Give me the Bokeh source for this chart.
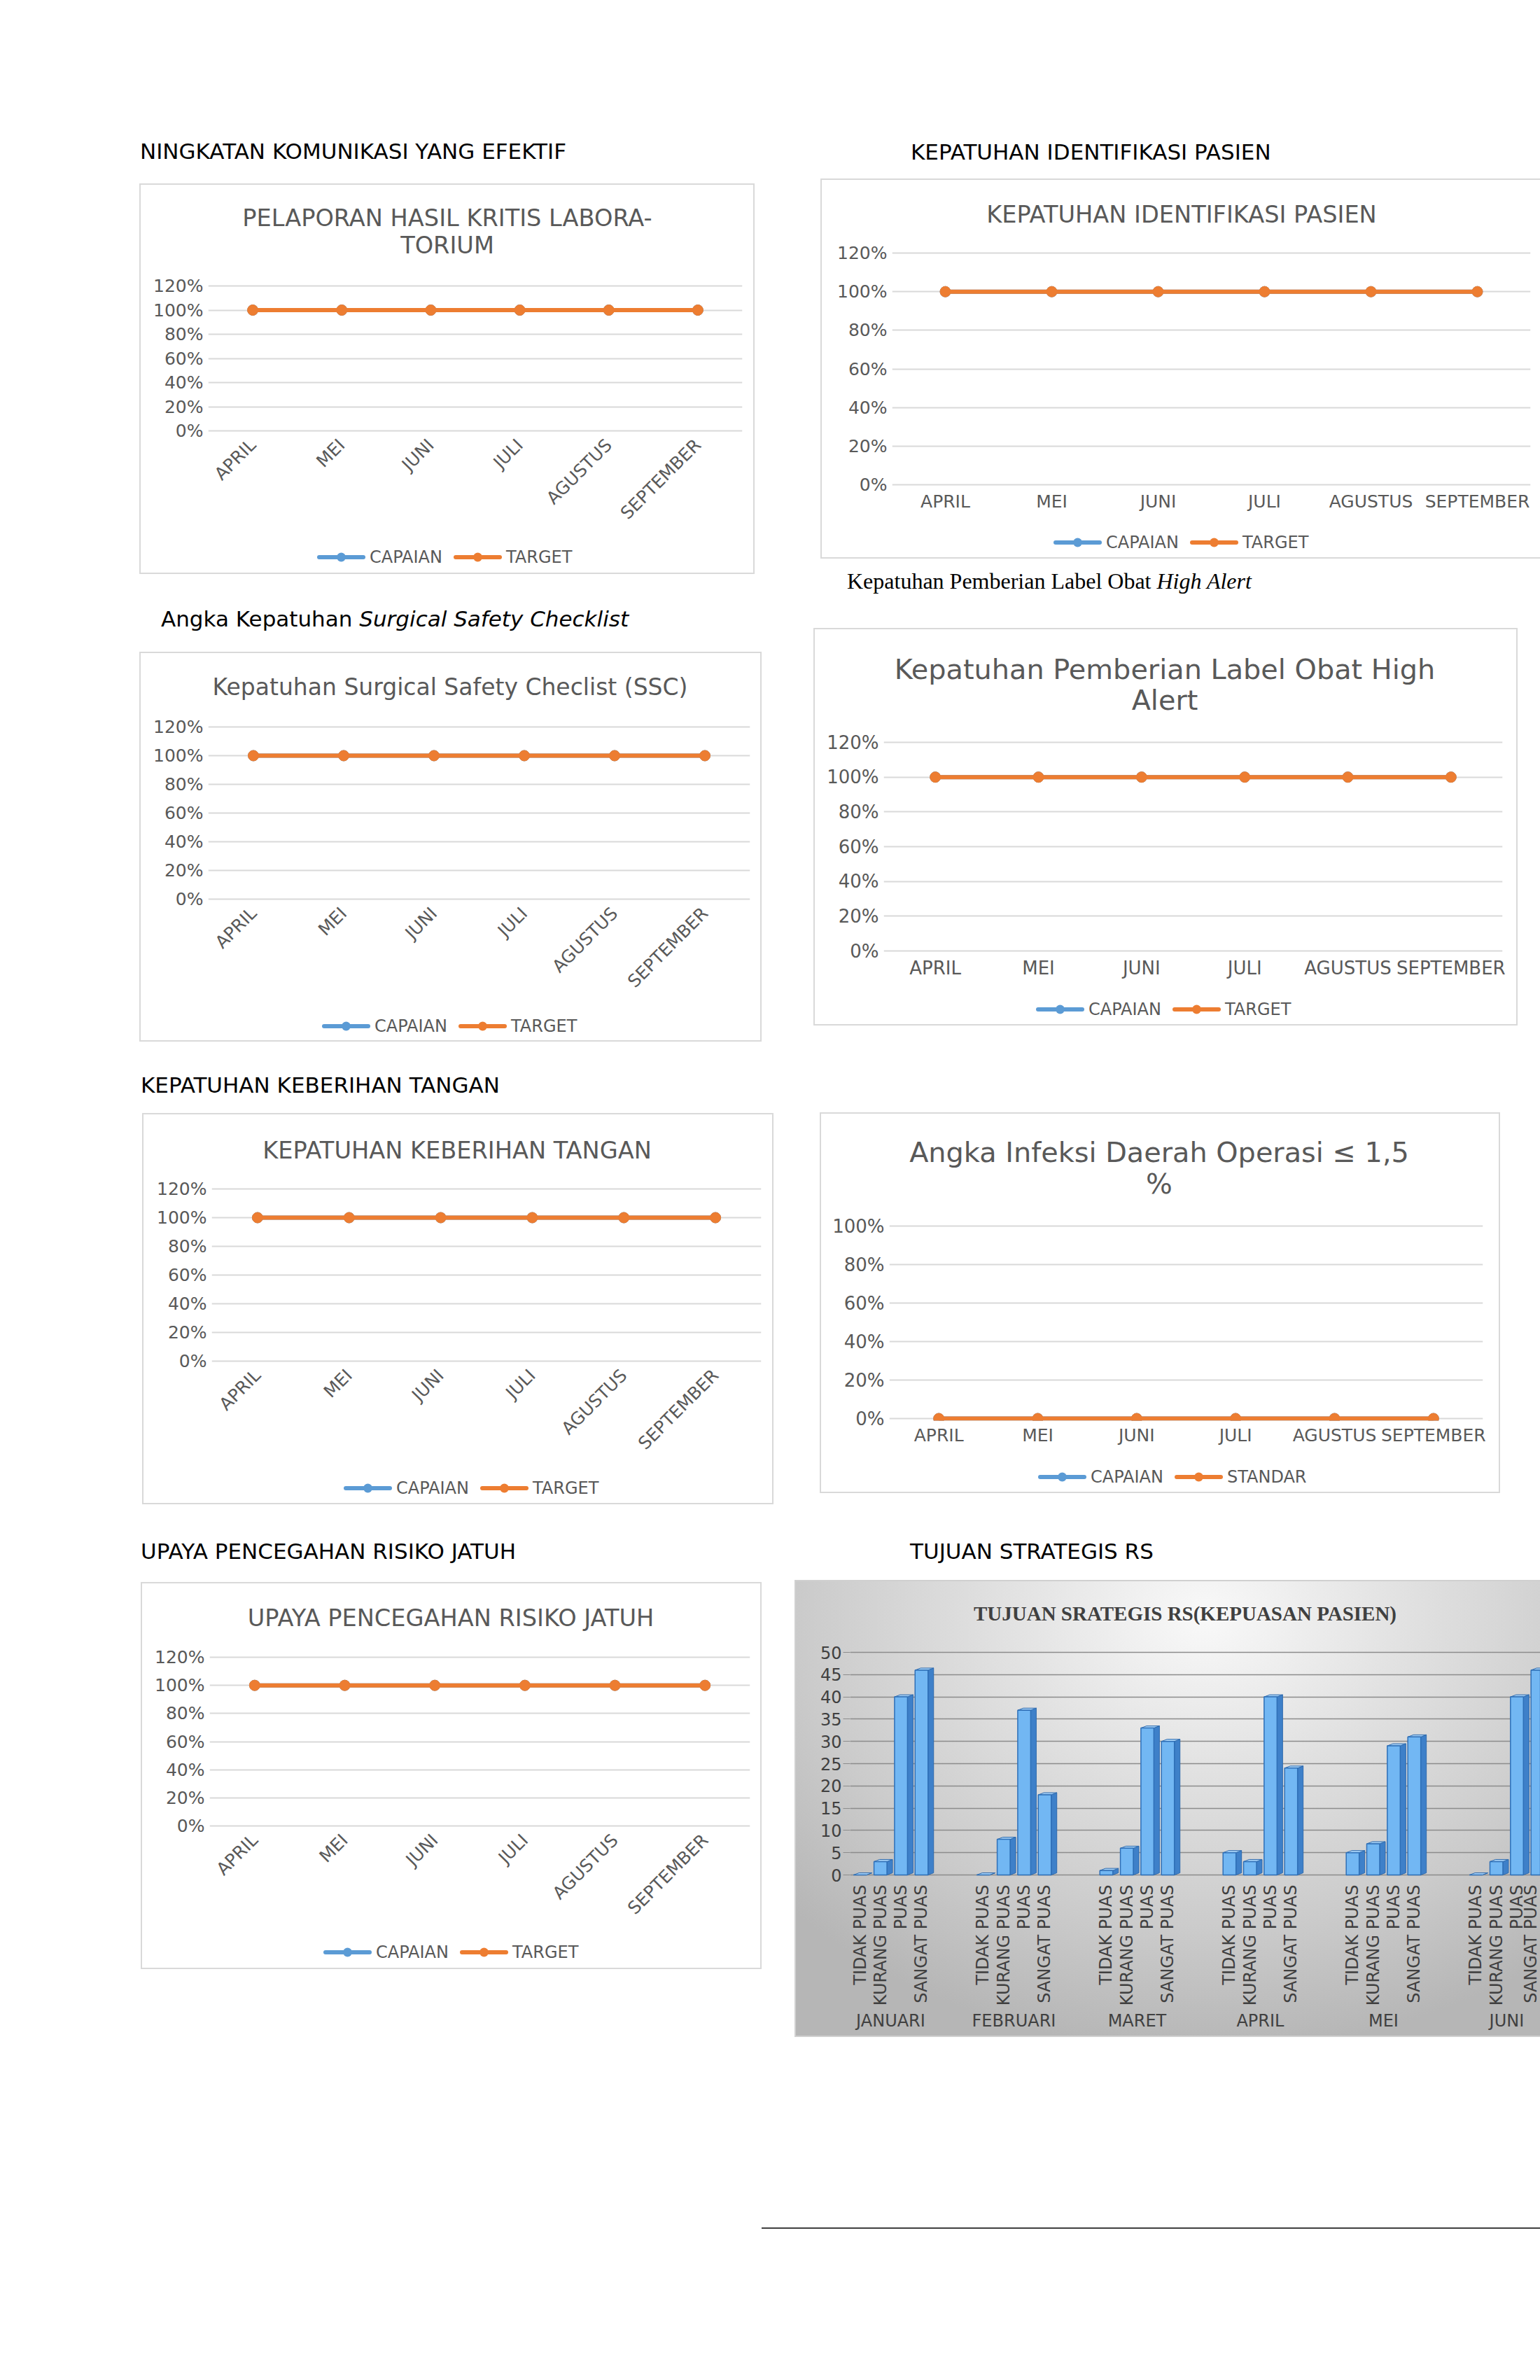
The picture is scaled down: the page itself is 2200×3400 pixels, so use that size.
import math
from bokeh.plotting import figure
from bokeh.models import (FactorRange, Range1d, FixedTicker, NumeralTickFormatter,
                          LinearAxis, Div, Spacer)
from bokeh.layouts import row, column
from bokeh.embed import file_html
from bokeh.resources import INLINE

# ------------------------------------------------------------------ data
bulan_indikator = ["APRIL", "MEI", "JUNI", "JULI", "AGUSTUS", "SEPTEMBER"]
ticks_120 = [0, 0.2, 0.4, 0.6, 0.8, 1.0, 1.2]
ticks_100 = [0, 0.2, 0.4, 0.6, 0.8, 1.0]

lab_capaian = [1.0, 1.0, 1.0, 1.0, 1.0, 1.0]
lab_target = [1.0, 1.0, 1.0, 1.0, 1.0, 1.0]
idp_capaian = [1.0, 1.0, 1.0, 1.0, 1.0, 1.0]
idp_target = [1.0, 1.0, 1.0, 1.0, 1.0, 1.0]
ssc_capaian = [1.0, 1.0, 1.0, 1.0, 1.0, 1.0]
ssc_target = [1.0, 1.0, 1.0, 1.0, 1.0, 1.0]
ha_capaian = [1.0, 1.0, 1.0, 1.0, 1.0, 1.0]
ha_target = [1.0, 1.0, 1.0, 1.0, 1.0, 1.0]
hh_capaian = [1.0, 1.0, 1.0, 1.0, 1.0, 1.0]
hh_target = [1.0, 1.0, 1.0, 1.0, 1.0, 1.0]
ido_capaian = [0.0, 0.0, 0.0, 0.0, 0.0, 0.0]
ido_standar = [0.0, 0.0, 0.0, 0.0, 0.0, 0.0]
jatuh_capaian = [1.0, 1.0, 1.0, 1.0, 1.0, 1.0]
jatuh_target = [1.0, 1.0, 1.0, 1.0, 1.0, 1.0]

bulan_kepuasan = ["JANUARI", "FEBRUARI", "MARET", "APRIL", "MEI", "JUNI"]
kategori_kepuasan = ["TIDAK PUAS", "KURANG PUAS", "PUAS", "SANGAT PUAS"]
tidak_puas = [0, 0, 1, 5, 5, 0]
kurang_puas = [3, 8, 6, 3, 7, 3]
puas = [40, 37, 33, 40, 29, 40]
sangat_puas = [46, 18, 30, 24, 31, 46]
ticks_kepuasan = [0, 5, 10, 15, 20, 25, 30, 35, 40, 45, 50]

# ------------------------------------------------------------------ style
SANS = "DejaVu Sans"
SERIF = "Liberation Serif"
METRICS = {SANS: (0.928, 0.236), SERIF: (0.891, 0.216)}
BLUE = "#5B9BD5"
ORANGE = "#ED7D31"
GREY_TXT = "#595959"
GRID = "#D9D9D9"
SHADOW_ALL = "inset 0 0 0 2px #D9D9D9"
SHADOW_NO_RIGHT = "inset 2px 2px 0 0 #D9D9D9, inset 0 -2px 0 0 #D9D9D9"
TOP_ROOM = 20
ORIGIN = 0


def title_div(html, box, cx, baseline1, size, lh, font, color, weight, height):
    x0, y0, w, h = box
    asc, desc = METRICS[font]
    pt = baseline1 - y0 - ((lh - (asc + desc) * size) / 2 + asc * size)
    dx = cx - (x0 + w / 2)
    inner = (f'<div style="width:{w}px;text-align:center;position:relative;left:{dx:.1f}px;'
             f'padding-top:{pt:.1f}px;font-family:\'{font}\';font-size:{size}px;'
             f'line-height:{lh}px;color:{color};font-weight:{weight};white-space:nowrap;">'
             f'{html}</div>')
    return Div(text=inner, width=w, height=height, margin=0)


def legend_div(series, box, legend_left, top, height):
    x0, y0, w, h = box
    parts = []
    for i, (name, vals, col) in enumerate(series):
        mr = 16 if i < len(series) - 1 else 0
        parts.append(
            f'<svg width="69" height="32" style="display:block;flex:none;">'
            f'<line x1="3" y1="16" x2="66" y2="16" stroke="{col}" stroke-width="6" '
            f'stroke-linecap="round"/><circle cx="34.5" cy="16" r="6.5" fill="{col}"/></svg>'
            f'<span style="margin-left:6px;margin-right:{mr}px;">{name}</span>')
    inner = (f'<div style="position:relative;width:{w}px;height:{height}px;">'
             f'<div style="position:absolute;left:{legend_left - x0}px;top:0px;height:32px;'
             f'display:flex;align-items:center;white-space:nowrap;font-family:\'{SANS}\';'
             f'font-size:24px;line-height:1.2;color:{GREY_TXT};">{"".join(parts)}</div></div>')
    return Div(text=inner, width=w, height=height, margin=0)


def line_chart(box, frame, ymax, yticks, title_html, title_size, title_lh, title_cx, title_base,
               legend_left, legend_cy, series, rotated, tick_size, xtick_size, shadow):
    x0, y0, w, h = box
    fl, fr, ft, fb = frame
    pad = 3
    ppu = (fb - ft) / ymax
    frame_top = ft - pad
    fig_top = frame_top - TOP_ROOM
    leg_top = round(legend_cy - 16)
    t_h = fig_top - y0
    f_h = leg_top - fig_top
    l_h = y0 + h - leg_top
    p = figure(width=w, height=f_h, x_range=FactorRange(*bulan_indikator),
               y_range=Range1d(-pad / ppu, ymax + pad / ppu),
               output_backend="svg", toolbar_location=None, title_location=None,
               min_border_left=fl - x0, min_border_right=x0 + w - fr,
               min_border_top=TOP_ROOM, min_border_bottom=leg_top - (fb + pad),
               border_fill_color=None, background_fill_color="white",
               outline_line_color=None)
    p.xgrid.grid_line_color = None
    p.ygrid.grid_line_color = GRID
    p.ygrid.grid_line_width = 2
    p.yaxis.ticker = FixedTicker(ticks=yticks)
    p.yaxis.formatter = NumeralTickFormatter(format="0%")
    for ax in (p.xaxis[0], p.yaxis[0]):
        ax.axis_line_color = None
        ax.major_tick_line_color = None
        ax.minor_tick_line_color = None
        ax.major_tick_out = 0
        ax.major_tick_in = 0
        ax.major_label_text_font = SANS
        ax.major_label_text_color = GREY_TXT
    p.yaxis.major_label_text_font_size = f"{tick_size}px"
    p.xaxis.major_label_text_font_size = f"{xtick_size}px"
    p.yaxis.major_label_standoff = 7
    if rotated:
        p.xaxis.major_label_orientation = math.pi / 4
        p.xaxis.major_label_standoff = 13
    else:
        p.xaxis.major_label_standoff = 6

    for name, vals, col in series:
        p.line(bulan_indikator, vals, line_width=6, color=col)
        p.scatter(bulan_indikator, vals, size=15, color=col)

    tdiv = title_div(title_html, box, title_cx, title_base, title_size, title_lh, SANS,
                     GREY_TXT, "normal", t_h)
    ldiv = legend_div(series, box, legend_left, leg_top, l_h)
    return column(tdiv, p, ldiv, styles={"background-color": "white", "box-shadow": shadow})


def bar_chart(box, frame):
    x0, y0, w, h = box
    fl, fr, ft, fb = frame
    slot_px = 29.33
    first_center = 1228
    pad = 2
    vmax = ticks_kepuasan[-1]
    ppu = (fb - ft) / vmax
    t_h = ft - pad - TOP_ROOM - y0
    p = figure(width=w, height=h - t_h,
               x_range=Range1d((fl - first_center) / slot_px, (fr - first_center) / slot_px),
               y_range=Range1d(-pad / ppu, vmax + pad / ppu),
               output_backend="svg", toolbar_location=None, title_location=None,
               min_border_left=fl - x0, min_border_right=x0 + w - fr,
               min_border_top=TOP_ROOM, min_border_bottom=y0 + h - fb - pad,
               border_fill_color=None, background_fill_color=None, outline_line_color=None)
    p.xgrid.grid_line_color = None
    p.ygrid.grid_line_color = "#8C8C8C"
    p.ygrid.grid_line_width = 1.5
    p.yaxis.ticker = FixedTicker(ticks=ticks_kepuasan)
    p.yaxis.axis_line_color = None
    p.yaxis.minor_tick_line_color = None
    p.yaxis.major_tick_out = 10
    p.yaxis.major_tick_in = 0
    p.yaxis.major_tick_line_color = "#8C8C8C"
    p.yaxis.major_label_standoff = 2
    p.yaxis.major_label_text_font = SANS
    p.yaxis.major_label_text_font_size = "24px"
    p.yaxis.major_label_text_color = "#404040"

    slots, tops = [], []
    series_vals = [tidak_puas, kurang_puas, puas, sangat_puas]
    sub_ticks, sub_over, grp_ticks, grp_over = [], {}, [], {}
    for g, m in enumerate(bulan_kepuasan):
        for k, vals in enumerate(series_vals):
            s = g * 6 + k
            slots.append(s)
            tops.append(vals[g])
            sub_ticks.append(s)
            sub_over[s] = kategori_kepuasan[k]
        c = g * 6 + (len(kategori_kepuasan) - 1) / 2
        grp_ticks.append(c)
        grp_over[c] = m

    fw = 0.63
    d = 8 / slot_px
    dy = 3 / ppu
    side_xs = [[x + fw / 2, x + fw / 2 + d, x + fw / 2 + d, x + fw / 2] for x in slots]
    side_ys = [[0, dy, v + dy, v] for v in tops]
    top_xs = [[x - fw / 2, x + fw / 2, x + fw / 2 + d, x - fw / 2 + d] for x in slots]
    top_ys = [[v, v, v + dy, v + dy] for v in tops]
    p.patches(side_xs, side_ys, fill_color="#3E80C9", line_color="#2E6AAE", line_width=1)
    p.patches(top_xs, top_ys, fill_color="#A8D3F8", line_color="#2E6AAE", line_width=1)
    p.vbar(x=slots, top=tops, bottom=0, width=fw, fill_color="#72B7F3",
           line_color="#2E6FB7", line_width=1.5)

    ax1 = p.xaxis[0]
    ax1.ticker = FixedTicker(ticks=sub_ticks)
    ax1.major_label_overrides = sub_over
    ax1.major_label_orientation = math.pi / 2
    ax1.axis_line_color = None
    ax1.major_tick_line_color = None
    ax1.minor_tick_line_color = None
    ax1.major_tick_out = 0
    ax1.major_tick_in = 0
    ax1.major_label_standoff = 12
    ax1.major_label_text_font = SANS
    ax1.major_label_text_font_size = "24px"
    ax1.major_label_text_color = "#404040"

    ax2 = LinearAxis(ticker=FixedTicker(ticks=grp_ticks), major_label_overrides=grp_over,
                     axis_line_color=None, major_tick_line_color=None,
                     minor_tick_line_color=None, major_tick_out=0, major_tick_in=0,
                     major_label_standoff=4, major_label_text_font=SANS,
                     major_label_text_font_size="24px", major_label_text_color="#404040")
    p.add_layout(ax2, "below")

    tdiv = title_div("TUJUAN SRATEGIS RS(KEPUASAN PASIEN)", box, 1693, 2315, 29, 35, SERIF,
                     "#404040", "bold", t_h)
    return column(tdiv, p, styles={
        "background": "radial-gradient(ellipse 75% 95% at 55% 8%, #F9F9F9 0%, "
                      "#E2E2E2 35%, #CBCBCB 72%, #B6B6B6 100%)",
        "box-shadow": "inset 2px 2px 0 0 #D0D0D0, inset 0 -2px 0 0 #D0D0D0"})


def heading(html, width, size="31px", font=SANS):
    return Div(text=html, width=width, height=40, margin=0,
               styles={"font-family": font, "font-size": size, "line-height": "1",
                       "color": "#000000", "white-space": "nowrap"})


# ------------------------------------------------------------------ charts
B1, B2, B3, B4 = (199, 262, 879, 558), (1172, 255, 1028, 543), (199, 931, 889, 557), (1162, 897, 1006, 568)
B5, B6, B7, B8 = (203, 1590, 902, 559), (1171, 1589, 972, 544), (201, 2260, 887, 553), (1135, 2257, 1065, 653)
T_S, T_L = 33.6, 39.8

c1 = line_chart(B1, (297, 1060, 408, 615), 1.2, ticks_120,
                "PELAPORAN HASIL KRITIS LABORA-<br>TORIUM", T_S, 39, 639, 323,
                453, 795.5, [("CAPAIAN", lab_capaian, BLUE), ("TARGET", lab_target, ORANGE)],
                True, 25, 25, SHADOW_ALL)
c2 = line_chart(B2, (1274, 2186, 361, 692), 1.2, ticks_120,
                "KEPATUHAN IDENTIFIKASI PASIEN", T_S, 39, 1688, 318,
                1505, 775, [("CAPAIAN", idp_capaian, BLUE), ("TARGET", idp_target, ORANGE)],
                False, 25, 25, SHADOW_NO_RIGHT)
c3 = line_chart(B3, (297, 1071, 1038, 1284), 1.2, ticks_120,
                "Kepatuhan Surgical Safety Checlist (SSC)", 33, 39, 643, 993,
                460, 1466, [("CAPAIAN", ssc_capaian, BLUE), ("TARGET", ssc_target, ORANGE)],
                True, 25, 25, SHADOW_ALL)
c4 = line_chart(B4, (1262, 2146, 1060, 1358), 1.2, ticks_120,
                "Kepatuhan Pemberian Label Obat High<br>Alert", T_L, 44, 1664, 970,
                1480, 1442, [("CAPAIAN", ha_capaian, BLUE), ("TARGET", ha_target, ORANGE)],
                False, 26, 26, SHADOW_ALL)
c5 = line_chart(B5, (302, 1087, 1698, 1944), 1.2, ticks_120,
                "KEPATUHAN KEBERIHAN TANGAN", T_S, 39, 653, 1655,
                491, 2126, [("CAPAIAN", hh_capaian, BLUE), ("TARGET", hh_target, ORANGE)],
                True, 25, 25, SHADOW_ALL)
c6 = line_chart(B6, (1270, 2118, 1751, 2026), 1.0, ticks_100,
                "Angka Infeksi Daerah Operasi \u2264 1,5<br>%", T_L, 45, 1656, 1660,
                1483, 2110, [("CAPAIAN", ido_capaian, BLUE), ("STANDAR", ido_standar, ORANGE)],
                False, 26, 25, SHADOW_ALL)
c7 = line_chart(B7, (299, 1071, 2367, 2608), 1.2, ticks_120,
                "UPAYA PENCEGAHAN RISIKO JATUH", T_S, 39, 644, 2323,
                462, 2789, [("CAPAIAN", jatuh_capaian, BLUE), ("TARGET", jatuh_target, ORANGE)],
                True, 25, 25, SHADOW_ALL)
c8 = bar_chart(B8, (1214, 2200, 2360, 2678))

h1 = heading("NINGKATAN KOMUNIKASI YANG EFEKTIF", 700)
h2 = heading("KEPATUHAN IDENTIFIKASI PASIEN", 600)
h3 = heading("Angka Kepatuhan <i>Surgical Safety Checklist</i>", 780)
h4 = heading("Kepatuhan Pemberian Label Obat <i>High Alert</i>", 700, size="32px", font=SERIF)
h5 = heading("KEPATUHAN KEBERIHAN TANGAN", 600)
h7 = heading("UPAYA PENCEGAHAN RISIKO JATUH", 650)
h8 = heading("TUJUAN STRATEGIS RS", 450)

# (x, y, w, h, element) in page coordinates
left_items = [
    (200, 201, 700, 40, h1),
    (B1[0], B1[1], B1[2], B1[3], c1),
    (230, 869, 780, 40, h3),
    (B3[0], B3[1], B3[2], B3[3], c3),
    (201, 1535, 600, 40, h5),
    (B5[0], B5[1], B5[2], B5[3], c5),
    (201, 2201, 650, 40, h7),
    (B7[0], B7[1], B7[2], B7[3], c7),
]
right_items = [
    (1301, 202, 600, 40, h2),
    (B2[0], B2[1], B2[2], B2[3], c2),
    (1210, 814, 700, 40, h4),
    (B4[0], B4[1], B4[2], B4[3], c4),
    (B6[0], B6[1], B6[2], B6[3], c6),
    (1300, 2201, 450, 40, h8),
    (B8[0], B8[1], B8[2], B8[3], c8),
]


def stack(items, col_x):
    children = []
    cur = ORIGIN
    for x, y, w, h, el in items:
        if y - cur > 0:
            children.append(Spacer(width=1, height=y - cur))
        dx = x - col_x
        if dx > 0:
            children.append(row(Spacer(width=dx, height=h), el))
        else:
            children.append(el)
        cur = y + h
    return column(*children)


left_w = max(x + w for x, y, w, h, el in left_items) - ORIGIN
left_col = stack(left_items, ORIGIN)
right_col = stack(right_items, ORIGIN + left_w)
bottom_of_cols = max(y + h for x, y, w, h, el in left_items + right_items)

line_div = Div(text="", width=2200 - 1088, height=2, margin=0,
               styles={"background-color": "#404040"})
page = column(row(left_col, right_col),
              Spacer(width=1, height=3182 - bottom_of_cols),
              row(Spacer(width=1088 - ORIGIN, height=2), line_div))

open("out.html", "w").write(file_html(page, INLINE, title="Indikator Mutu"))
